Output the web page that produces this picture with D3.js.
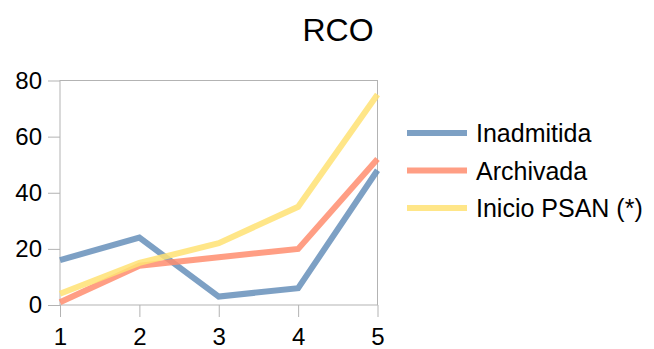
<!DOCTYPE html>
<html>
<head>
<meta charset="utf-8">
<script src="https://cdn.jsdelivr.net/npm/d3@7"></script>
<style>
  html, body { margin: 0; padding: 0; background: #fff; }
  svg { display: block; font-family: "Liberation Sans", Arial, sans-serif; }
</style>
</head>
<body>
<svg id="chart" width="654" height="349"></svg>
<script>
// Categories on the x axis
const categories = ["1", "2", "3", "4", "5"];

// Series values
const inadmitida = [16, 24, 3, 6, 48];
const archivada = [1, 14, 17, 20, 52];
const inicioPsan = [4, 15, 22, 35, 75];

const seriesNames = ["Inadmitida", "Archivada", "Inicio PSAN (*)"];
const seriesColors = ["#668fba", "#ff8d6f", "#ffe273"];

// Y axis ticks
const yTicks = [0, 20, 40, 60, 80];

const series = [inadmitida, archivada, inicioPsan].map((values, i) => ({
  name: seriesNames[i], color: seriesColors[i], values
}));

const svg = d3.select("#chart");
const plot = { left: 60, right: 377.5, top: 80.5, bottom: 305 };

const x = d3.scalePoint().domain(categories).range([plot.left, plot.right]);
const y = d3.scaleLinear().domain([0, 80]).range([plot.bottom, plot.top]);

const axisColor = "#b3b3b3";
const lineOpacity = 0.85;

// Title
svg.append("text")
  .attr("x", 338).attr("y", 41)
  .attr("text-anchor", "middle")
  .attr("font-size", 32)
  .attr("fill", "#000")
  .text("RCO");

// Plot frame
svg.append("rect")
  .attr("x", plot.left).attr("y", plot.top)
  .attr("width", plot.right - plot.left).attr("height", plot.bottom - plot.top)
  .attr("fill", "none").attr("stroke", axisColor).attr("stroke-width", 1);

// Y axis
const yAxis = svg.append("g")
  .attr("transform", `translate(${plot.left},0)`)
  .call(d3.axisLeft(y).tickValues(yTicks).tickSize(12).tickPadding(6).tickFormat(d3.format("d")));
yAxis.select(".domain").remove();
yAxis.selectAll(".tick line").attr("stroke", axisColor);
yAxis.selectAll(".tick text")
  .attr("font-size", 24).attr("fill", "#000")
  .attr("font-family", "Liberation Sans, Arial, sans-serif");

// X axis
const xAxis = svg.append("g")
  .attr("transform", `translate(0,${plot.bottom})`)
  .call(d3.axisBottom(x).tickSize(12).tickPadding(11));
xAxis.select(".domain").remove();
xAxis.selectAll(".tick line").attr("stroke", axisColor);
xAxis.selectAll(".tick text")
  .attr("font-size", 24).attr("fill", "#000")
  .attr("font-family", "Liberation Sans, Arial, sans-serif");

// Series lines
const line = d3.line()
  .x((d, i) => x(categories[i]))
  .y(d => y(d));

svg.append("g").selectAll("path")
  .data(series)
  .join("path")
  .attr("d", d => line(d.values))
  .attr("fill", "none")
  .attr("stroke", d => d.color)
  .attr("stroke-opacity", lineOpacity)
  .attr("stroke-width", 6)
  .attr("stroke-linejoin", "miter");

// Legend
const legend = svg.append("g");
const legendRows = legend.selectAll("g")
  .data(series)
  .join("g")
  .attr("transform", (d, i) => `translate(407,${133 + i * 37.5})`);
legendRows.append("line")
  .attr("x1", 0).attr("x2", 60)
  .attr("y1", 0).attr("y2", 0)
  .attr("stroke", d => d.color)
  .attr("stroke-opacity", lineOpacity)
  .attr("stroke-width", 6);
legendRows.append("text")
  .attr("x", 69).attr("y", 9)
  .attr("font-size", 25)
  .attr("fill", "#000")
  .text(d => d.name);
</script>
</body>
</html>
